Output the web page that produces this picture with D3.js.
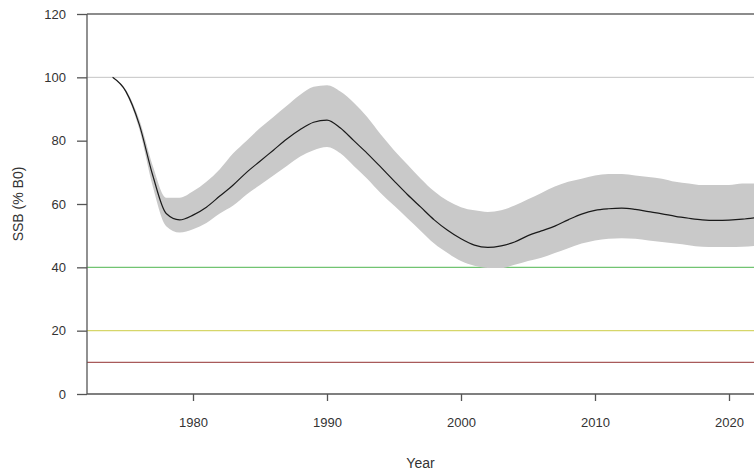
<!DOCTYPE html>
<html lang="en">
	<head>
		<meta charset="UTF-8" />
		<title>SSB</title>
		<style>
			body { margin: 0; background: #fff; }
			text { font-family: 'Liberation Sans', Arial, sans-serif; }
		</style>
	</head>
	<body>
		<svg id="svg" width="754" height="474"></svg>

		<script src="https://d3js.org/d3.v7.min.js"></script>
		<script>
			const years = d3.range(1974, 2023);
			const ssb = [
				100, 95.5, 85, 69, 57, 55, 56.5, 59, 62.5, 66,
				70, 73.5, 77, 80.5, 83.5, 85.8, 86.5, 84, 80, 76,
				71.7, 67.3, 63, 59, 55, 51.7, 49, 47, 46.3, 46.8,
				48, 50, 51.5, 53, 55, 56.8, 58, 58.5, 58.7, 58.3,
				57.6, 56.9, 56.1, 55.5, 55, 54.8, 54.9, 55.2, 55.7
			];
			const lower = [
				100, 95, 83.5, 65.5, 53, 51, 52, 54, 57, 59.5,
				63, 66, 69, 72, 75, 77, 78, 76, 72, 68,
				63.5, 59.5, 55.5, 51.5, 47.5, 44.5, 42, 40.5, 39.8, 39.8,
				40.8, 42, 43, 44.5, 46, 47.5, 48.5, 49, 49.2, 49,
				48.5, 48, 47.5, 47, 46.5, 46.4, 46.4, 46.5, 46.8
			];
			const upper = [
				100, 96, 86.5, 72, 62, 62, 64, 67, 71, 76,
				80, 84, 87.5, 91, 94.5, 97, 97.5, 95.5, 92, 87.5,
				82, 77, 72.5, 68, 64, 61, 59, 58, 57.5, 58,
				59.5, 61.5, 63.5, 65.5, 67, 68, 69, 69.5, 69.5, 69,
				68.5, 68, 67, 66.5, 66, 66, 66, 66.5, 66.5
			];
			const yTicks = [0, 20, 40, 60, 80, 100, 120];
			const xTicks = [1980, 1990, 2000, 2010, 2020];
			const refLines = [
				{ value: 120, color: '#666666', width: 1.3 },
				{ value: 100, color: '#c4c4c4', width: 1 },
				{ value: 40, color: '#72c472', width: 1.2 },
				{ value: 20, color: '#d6d66a', width: 1.2 },
				{ value: 10, color: '#a85a5a', width: 1.2 }
			];

			const svg = d3.select('#svg');
			const x = d3.scaleLinear().domain([1980, 2020]).range([193, 729]);
			const y = d3.scaleLinear().domain([0, 120]).range([394, 14]);
			const left = 87;
			const right = 754;

			const data = years.map((yr, i) => ({ yr, v: ssb[i], lo: lower[i], hi: upper[i] }));

			// reference lines
			svg
				.selectAll('line.ref')
				.data(refLines)
				.enter()
				.append('line')
				.attr('x1', left)
				.attr('x2', right)
				.attr('y1', (d) => y(d.value))
				.attr('y2', (d) => y(d.value))
				.attr('stroke', (d) => d.color)
				.attr('stroke-width', (d) => d.width);

			// confidence band
			svg
				.append('path')
				.datum(data)
				.attr(
					'd',
					d3
						.area()
						.curve(d3.curveMonotoneX)
						.x((d) => x(d.yr))
						.y0((d) => y(d.lo))
						.y1((d) => y(d.hi))
				)
				.attr('fill', '#c9c9c9');

			svg
				.append('path')
				.datum(data)
				.attr(
					'd',
					d3
						.line()
						.curve(d3.curveMonotoneX)
						.x((d) => x(d.yr))
						.y((d) => y(d.v))
				)
				.attr('fill', 'none')
				.attr('stroke', '#1a1a1a')
				.attr('stroke-width', 1.2);

			// y axis
			const yAxis = svg
				.append('g')
				.attr('transform', `translate(${left},0)`)
				.call(d3.axisLeft(y).tickValues(yTicks).tickSize(10).tickPadding(11));
			yAxis.selectAll('path, line').attr('stroke', '#555').attr('stroke-width', 1.3);
			yAxis.select('.domain').attr('d', `M0,${y(120)}V${y(0)}`);
			yAxis.selectAll('text').style('font-size', '13px').style('fill', '#333');

			// x axis
			const xAxis = svg
				.append('g')
				.attr('transform', `translate(0,${y(0)})`)
				.call(d3.axisBottom(x).tickValues(xTicks).tickFormat(d3.format('d')).tickSize(7).tickPadding(17));
			xAxis.selectAll('path, line').attr('stroke', '#555').attr('stroke-width', 1.3);
			xAxis.select('.domain').attr('d', `M${left},0H${right}`);
			xAxis.selectAll('text').style('font-size', '13px').style('fill', '#333');

			svg
				.append('text')
				.attr('x', (left + right) / 2)
				.attr('y', 468)
				.attr('text-anchor', 'middle')
				.style('font-size', '14px')
				.style('fill', '#333')
				.text('Year');

			svg
				.append('text')
				.attr('transform', 'translate(23,204) rotate(-90)')
				.attr('text-anchor', 'middle')
				.style('font-size', '14px')
				.style('fill', '#333')
				.text('SSB (% B0)');
		</script>
	</body>
</html>
